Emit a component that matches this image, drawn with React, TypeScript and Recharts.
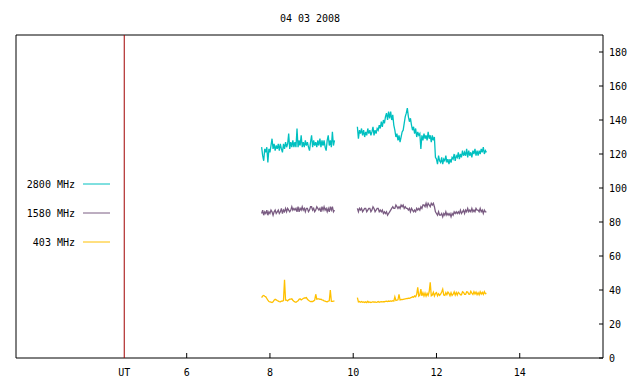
import React from 'react';
import { LineChart, Line, XAxis, YAxis, ReferenceLine, ReferenceArea } from 'recharts';

const FONT = '"DejaVu Sans Mono", monospace';

const title = '04 03 2008';
const seriesNames = ['2800 MHz', '1580 MHz', '403 MHz'];
const seriesColors = ['#00c0c0', '#7a5c82', '#ffc000'];

const xTicks = [4.5, 6, 8, 10, 12, 14];
const xTickLabels = ['UT', '6', '8', '10', '12', '14'];
const yTicks = [0, 20, 40, 60, 80, 100, 120, 140, 160, 180];
const xDomain = [1.9, 16];
const yDomain = [0, 190];
const utLine = 4.5;

const times1 = [
  7.8, 7.825, 7.85, 7.875, 7.9, 7.925, 7.95, 7.975,
  8.0, 8.025, 8.05, 8.075, 8.1, 8.125, 8.15, 8.175,
  8.2, 8.225, 8.25, 8.275, 8.3, 8.325, 8.35, 8.375,
  8.4, 8.425, 8.45, 8.475, 8.5, 8.525, 8.55, 8.575,
  8.6, 8.625, 8.65, 8.675, 8.7, 8.725, 8.75, 8.775,
  8.8, 8.825, 8.85, 8.875, 8.9, 8.925, 8.95, 8.975,
  9.0, 9.025, 9.05, 9.075, 9.1, 9.125, 9.15, 9.175,
  9.2, 9.225, 9.25, 9.275, 9.3, 9.325, 9.35, 9.375,
  9.4, 9.425, 9.45, 9.475, 9.5, 9.525, 9.55];
const times2 = [
  10.1, 10.125, 10.15, 10.175, 10.2, 10.225, 10.25, 10.275,
  10.3, 10.325, 10.35, 10.375, 10.4, 10.425, 10.45, 10.475,
  10.5, 10.525, 10.55, 10.575, 10.6, 10.625, 10.65, 10.675,
  10.7, 10.725, 10.75, 10.775, 10.8, 10.825, 10.85, 10.875,
  10.9, 10.925, 10.95, 10.975, 11.0, 11.025, 11.05, 11.075,
  11.1, 11.125, 11.15, 11.175, 11.2, 11.225, 11.25, 11.275,
  11.3, 11.325, 11.35, 11.375, 11.4, 11.425, 11.45, 11.475,
  11.5, 11.525, 11.55, 11.575, 11.6, 11.625, 11.65, 11.675,
  11.7, 11.725, 11.75, 11.775, 11.8, 11.825, 11.85, 11.875,
  11.9, 11.925, 11.95, 11.975, 12.0, 12.025, 12.05, 12.075,
  12.1, 12.125, 12.15, 12.175, 12.2, 12.225, 12.25, 12.275,
  12.3, 12.325, 12.35, 12.375, 12.4, 12.425, 12.45, 12.475,
  12.5, 12.525, 12.55, 12.575, 12.6, 12.625, 12.65, 12.675,
  12.7, 12.725, 12.75, 12.775, 12.8, 12.825, 12.85, 12.875,
  12.9, 12.925, 12.95, 12.975, 13.0, 13.025, 13.05, 13.075,
  13.1, 13.125, 13.15, 13.175, 13.2];
const gapTime = 9.8;

const f2800a = [
  124, 119, 116, 123, 121, 124, 115, 123,
  121, 125, 129, 123, 126, 122, 125, 123,
  126, 122, 126, 123, 121, 126, 123, 127,
  124, 126, 132, 123, 127, 124, 128, 124,
  127, 124, 135, 124, 128, 125, 131, 124,
  127, 124, 128, 125, 127, 124, 122, 127,
  131, 124, 128, 125, 127, 124, 128, 125,
  129, 124, 128, 125, 128, 124, 122, 128,
  131, 125, 128, 124, 133, 125, 128];
const f2800b = [
  136, 129, 134, 132, 135, 131, 134, 130,
  133, 131, 135, 132, 134, 131, 133, 136,
  131, 134, 132, 135, 134, 137, 135, 139,
  136, 140, 138, 142, 144, 140, 145, 141,
  145, 140, 143, 137, 134, 130, 132, 128,
  131, 127, 130, 133, 134, 138, 142, 144,
  147, 142, 139, 141, 137, 134, 136, 132,
  135, 130, 133, 131, 132, 123, 131, 128,
  132, 129, 131, 128, 133, 129, 131, 127,
  131, 128, 130, 118, 117, 114, 119, 116,
  115, 118, 114, 117, 116, 119, 115, 117,
  114, 117, 115, 118, 117, 120, 116, 119,
  118, 121, 117, 120, 118, 122, 119, 121,
  119, 123, 118, 122, 119, 121, 118, 122,
  120, 123, 119, 122, 119, 122, 120, 123,
  121, 124, 120, 122, 121];

const f1580a = [
  85, 87, 84, 86, 85, 87, 84, 86,
  85, 87, 86, 84, 86, 87, 85, 86,
  87, 85, 86, 88, 85, 87, 86, 88,
  86, 88, 87, 86, 87, 89, 87, 88,
  87, 88, 86, 89, 86, 88, 87, 89,
  87, 88, 86, 88, 88, 86, 87, 89,
  89, 87, 88, 86, 87, 89, 88, 87,
  88, 86, 89, 87, 89, 87, 88, 86,
  88, 86, 89, 87, 89, 86, 87];
const f1580b = [
  88, 86, 88, 87, 88, 86, 87, 88,
  88, 86, 87, 88, 88, 86, 87, 89,
  88, 86, 87, 88, 88, 86, 87, 86,
  87, 85, 86, 85, 86, 84, 85, 86,
  87, 88, 89, 88, 88, 90, 89, 88,
  89, 88, 90, 89, 90, 88, 89, 88,
  88, 87, 88, 86, 88, 87, 86, 87,
  86, 88, 87, 88, 87, 89, 88, 90,
  90, 89, 91, 89, 91, 90, 89, 91,
  90, 91, 89, 86, 85, 84, 86, 84,
  84, 85, 83, 85, 84, 86, 84, 85,
  84, 85, 83, 85, 84, 86, 85, 86,
  85, 86, 85, 87, 85, 86, 87, 85,
  87, 86, 88, 86, 87, 86, 88, 86,
  87, 86, 88, 87, 87, 86, 88, 86,
  87, 85, 87, 86, 86];

const f403a = [
  35.5, 36.5, 36.8, 36.3, 36, 35, 34, 33.2,
  33, 32.8, 32.6, 33, 34, 34.5, 34.2, 33.8,
  33.5, 33.2, 33, 33.4, 33.5, 33.8, 46, 34,
  34, 33.6, 34.2, 34.6, 34.6, 34.8, 34, 33.4,
  33, 32.8, 33.2, 33.6, 34.5, 34.8, 34.2, 34.6,
  35, 35.4, 35.3, 35.5, 34.5, 34, 33.5, 33.2,
  33.3, 33.2, 33.6, 34, 37.5, 34.6, 34.8, 34.8,
  34.5, 34.6, 34.2, 34, 33.6, 33.4, 33.2, 33.1,
  33.4, 33.6, 40, 33.3, 33.3, 33.5, 33.4];
const f403b = [
  35.5, 33, 33.2, 32.8, 33.2, 32.8, 33, 32.6,
  33, 32.6, 33.4, 32.7, 33, 32.6, 32.8, 33.1,
  32.8, 33, 32.7, 32.9, 33.2, 32.8, 33, 33.1,
  33, 33.2, 33.1, 33.3, 33.4, 33.2, 33.5, 33.3,
  33.6, 33.4, 33.7, 33.5, 36, 33.8, 34, 34.2,
  37.5, 34.2, 34.4, 34.3, 34.5, 34.7, 34.8, 34.9,
  35, 35.2, 35.1, 35.4, 35.6, 36, 35.8, 36.5,
  36, 37.5, 41.5, 36.4, 37, 40.5, 36.6, 38.4,
  36.5, 38.2, 36.4, 38, 36.8, 39, 44.5, 36.6,
  37, 38.6, 36.5, 38, 38.5, 36.6, 37.8, 36.8,
  37.5, 38.8, 40.5, 37, 36.8, 38.4, 37.2, 38.8,
  38, 36.6, 38.4, 36.8, 37.5, 38.9, 37, 38.5,
  37, 38.6, 38, 37.2, 37.2, 39, 38.6, 37.4,
  37.4, 39, 38.8, 37.6, 37.5, 39.2, 38.2, 37.4,
  39, 37.6, 38.8, 37.2, 38.4, 37.2, 39, 37.6,
  38.6, 37.4, 39, 37.8, 38];

type Row = { t: number; a: number | null; b: number | null; c: number | null };
const data: Row[] = [
  ...times1.map((t, i) => ({ t, a: f2800a[i], b: f1580a[i], c: f403a[i] })),
  { t: gapTime, a: null, b: null, c: null },
  ...times2.map((t, i) => ({ t, a: f2800b[i], b: f1580b[i], c: f403b[i] })),
];

const BottomTick = (props: any) => {
  const { x, y, payload } = props;
  const idx = xTicks.indexOf(payload.value);
  const label = idx >= 0 ? xTickLabels[idx] : String(payload.value);
  return (
    <g>
      {label !== 'UT' && <line x1={x} x2={x} y1={y} y2={y - 5} stroke="#000" />}
      <text x={x} y={y + 18} textAnchor="middle" fontFamily={FONT} fontSize={10} fill="#000">{label}</text>
    </g>
  );
};

const TopTick = (props: any) => {
  const { x, y, payload } = props;
  if (payload.value === utLine) return <g />;
  return <line x1={x} x2={x} y1={y} y2={y + 5} stroke="#000" />;
};

const RightTick = (props: any) => {
  const { x, y, payload } = props;
  return (
    <g>
      <line x1={x - 4} x2={x} y1={y} y2={y} stroke="#000" />
      <text x={x + 6} y={y + 4} textAnchor="start" fontFamily={FONT} fontSize={10} fill="#000">{payload.value}</text>
    </g>
  );
};

export default function App() {
  const legendY = [184, 213, 242];
  return (
    <div style={{ position: 'absolute', left: 0, top: 0, width: 640, height: 384, background: '#fff' }}>
      <LineChart width={640} height={384} data={data} margin={{ top: 35, right: 0, left: 16, bottom: 0 }}>
        <XAxis dataKey="t" type="number" domain={xDomain} ticks={xTicks} allowDataOverflow
          axisLine={false} tickLine={false} tickSize={0} tickMargin={0} height={26} tick={<BottomTick />} interval={0} />
        <XAxis xAxisId="top" orientation="top" dataKey="t" type="number" domain={xDomain} ticks={xTicks} allowDataOverflow
          axisLine={false} tickLine={false} tickSize={0} tickMargin={0} height={0} tick={<TopTick />} interval={0} />
        <YAxis orientation="right" type="number" domain={yDomain} ticks={yTicks} allowDataOverflow
          axisLine={false} tickLine={false} tickSize={0} tickMargin={0} width={37} tick={<RightTick />} interval={0} />
        <ReferenceArea x1={xDomain[0]} x2={xDomain[1]} y1={yDomain[0]} y2={yDomain[1]} fill="none" stroke="#000" strokeWidth={1} fillOpacity={0} />
        <ReferenceLine x={utLine} stroke="#a00000" strokeWidth={1} />
        <Line dataKey="a" stroke={seriesColors[0]} strokeWidth={1.3} dot={false} connectNulls={false} isAnimationActive={false} />
        <Line dataKey="b" stroke={seriesColors[1]} strokeWidth={1.3} dot={false} connectNulls={false} isAnimationActive={false} />
        <Line dataKey="c" stroke={seriesColors[2]} strokeWidth={1.3} dot={false} connectNulls={false} isAnimationActive={false} />
      </LineChart>
      <svg width={640} height={384} style={{ position: 'absolute', left: 0, top: 0, pointerEvents: 'none' }}>
        <text x={310} y={22} textAnchor="middle" fontFamily={FONT} fontSize={10} fill="#000">{title}</text>
        {seriesNames.map((n, i) => (
          <g key={n}>
            <text x={75} y={legendY[i] + 4} textAnchor="end" fontFamily={FONT} fontSize={10} fill="#000">{n}</text>
            <line x1={83} x2={110} y1={legendY[i]} y2={legendY[i]} stroke={seriesColors[i]} strokeWidth={1} />
          </g>
        ))}
      </svg>
    </div>
  );
}
